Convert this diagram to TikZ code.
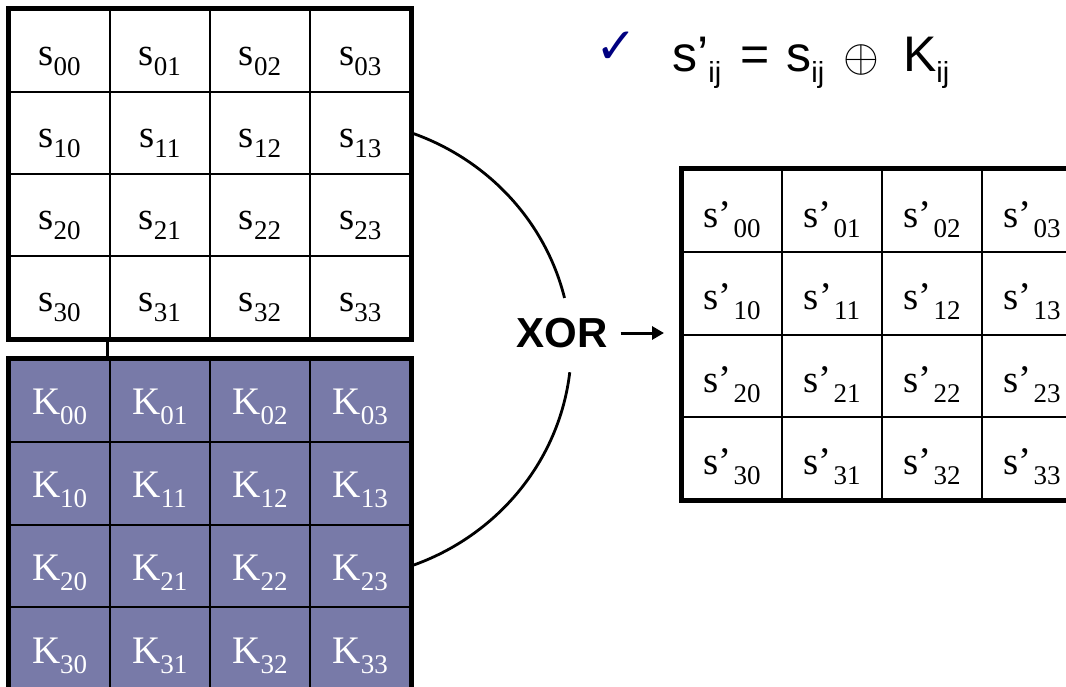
\documentclass[tikz,border=0pt]{standalone}
\usepackage{fontspec}
\setmainfont{Liberation Serif}
\newfontfamily\arialfont{Liberation Sans}
\newfontfamily\symbfont{DejaVu Sans}
\usepackage{xcolor}
\usepackage{graphicx}
\usetikzlibrary{arrows.meta}
\definecolor{keyfill}{RGB}{120,122,168}
\definecolor{tickblue}{RGB}{0,0,128}
\newcommand{\lowsub}[1]{\raisebox{-10pt}{\fontsize{27}{27}\selectfont #1}}
\newcommand{\eqsub}[1]{\raisebox{-11pt}{\fontsize{29}{29}\selectfont #1}}
\newcommand{\xorsign}{{\fontsize{10}{12}\selectfont\scalebox{4.6}{$\oplus$}}}

\begin{document}
\begin{tikzpicture}[x=1pt,y=-1pt,
 every node/.style={inner sep=0pt},
 cell/.style={rectangle,draw,line width=2pt,minimum width=100.2pt,minimum height=82.2pt,text height=29pt,text depth=0pt,font=\fontsize{39}{41}\selectfont},
 scell/.style={cell,fill=white},
 kcell/.style={cell,fill=keyfill,text=white,minimum height=82.75pt},
 ocell/.style={cell,fill=white,minimum width=100pt,minimum height=82.5pt,text height=33pt},
 frame/.style={draw,line width=5pt},
 link/.style={line width=2.8pt},
 arr/.style={-{Triangle[length=12pt,width=13pt]},line width=3pt}]
\useasboundingbox (0,0) rectangle (1066,687);
\clip (0,0) rectangle (1066,687);
% state, round key and result grids
\foreach \r in {0,...,3}{
 \foreach \c in {0,...,3}{
  \node[scell] (s\r\c) at ({59.6+100.2*\c},{50.6+82.2*\r}) {s\lowsub{\r\c}};
  \node[kcell] (k\r\c) at ({59.6+100.2*\c},{400.4+82.75*\r}) {K\lowsub{\r\c}};
  \node[ocell] (o\r\c) at ({732+100*\c},{210.75+82.5*\r}) {s’\hspace{2pt}\lowsub{\r\c}};
 }
}
\draw[frame] (s00.north west) rectangle (s33.south east);
\draw[frame] (k00.north west) rectangle (k33.south east);
\draw[frame] (o00.north west) rectangle (o33.south east);
\draw[line width=2.5pt] ([xshift=-3pt]s30.south east) -- ([xshift=-3pt]k00.north east);
% xor
\node[font=\arialfont\bfseries\fontsize{42}{44}\selectfont] (xor) at (562,333) {XOR};
\draw[link] (s13.east) arc[start angle=-70.2,end angle=-13.6,x radius=242,y radius=234];
\draw[link] (k23.east) arc[start angle=70.2,end angle=6.5,x radius=242,y radius=234];
\draw[arr,shorten <=13pt,shorten >=17pt] (xor.east) -- (xor.east -| o10.west);
% formula
\node[text=tickblue,font=\symbfont\fontsize{50}{50}\selectfont] (tick) at (616,48) {✓};
\node[anchor=base west,font=\arialfont\fontsize{50}{52}\selectfont] (eq) at (672,72)
 {s’\eqsub{ij}\hspace{19pt}=\hspace{17pt}s\eqsub{ij}\hspace{19pt}\xorsign\hspace{24pt}K\eqsub{ij}};
\end{tikzpicture}
\end{document}
